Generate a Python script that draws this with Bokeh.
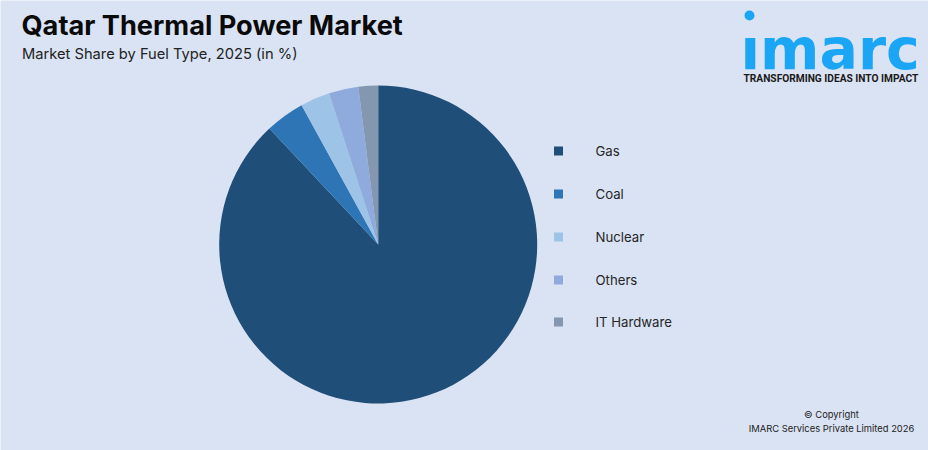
import numpy as np
from bokeh.plotting import figure
from bokeh.models import Range1d
from bokeh.core.properties import value
from bokeh.embed import file_html
from bokeh.resources import INLINE

categories = ["Gas", "Coal", "Nuclear", "Others", "IT Hardware"]
shares = [88, 4, 3, 3, 2]
colors = ["#1F4E79", "#2E75B6", "#9DC3E6", "#8FAADC", "#8497B0"]

W, H = 928, 450
BG = "#DAE3F3"

def Y(v):
    return H - v

p = figure(width=W, height=H, output_backend="svg", toolbar_location=None,
           x_range=Range1d(0, W), y_range=Range1d(0, H), min_border=0,
           background_fill_color=BG, border_fill_color=BG, outline_line_color=None)
p.axis.visible = False
p.grid.visible = False

# pie, clockwise from 12 o'clock
fr = np.cumsum([0] + shares) / sum(shares)
ends = np.pi / 2 - 2 * np.pi * fr[:-1]
starts = np.pi / 2 - 2 * np.pi * fr[1:]
p.wedge(x=377.7, y=Y(244), radius=159, start_angle=starts, end_angle=ends,
        fill_color=colors, line_color=None)

# legend
ly = [151, 194, 237, 280, 322]
p.scatter(x=[558] * 5, y=[Y(v - 0.5) for v in ly], marker="square", size=9,
          fill_color=colors, line_color=None)
p.text(x=[595] * 5, y=[Y(v - 1) for v in ly], text=categories,
       text_font=value("Inter"), text_font_size="13.2px", text_color="#262626",
       text_baseline="middle", text_align="left")

# title
p.text(x=[21], y=[Y(25)], text=["Qatar Thermal Power Market"], text_font=value("Inter"),
       text_font_size="27.2px", text_font_style="bold", text_color="#0A0A0A",
       text_baseline="middle")
p.text(x=[21.5], y=[Y(53)], text=["Market Share by Fuel Type, 2025 (in %)"], text_font=value("Inter"),
       text_font_size="14.7px", text_color="#222222", text_baseline="middle")

# logo
p.text(x=[740], y=[Y(48)], text=["ımarc"], text_font=value("DejaVu Sans"),
       text_font_size="57px", text_font_style="bold", text_color="#1BA6F5",
       text_baseline="alphabetic")
p.scatter(x=[749], y=[Y(15)], marker="circle", size=10, fill_color="#1BA6F5", line_color=None)
p.text(x=[743], y=[Y(78)], text=["TRANSFORMING IDEAS INTO IMPACT"], text_font=value("Roboto"),
       text_font_size="10.2px", text_font_style="bold", text_color="#1A1A1A",
       text_baseline="middle")

# footer
p.text(x=[831, 831], y=[Y(414), Y(428)],
       text=["© Copyright", "IMARC Services Private Limited 2026"],
       text_font=value("Inter"), text_font_size="9.4px", text_color="#222222",
       text_align="center", text_baseline="middle")

open("out.html", "w").write(file_html(p, INLINE))
